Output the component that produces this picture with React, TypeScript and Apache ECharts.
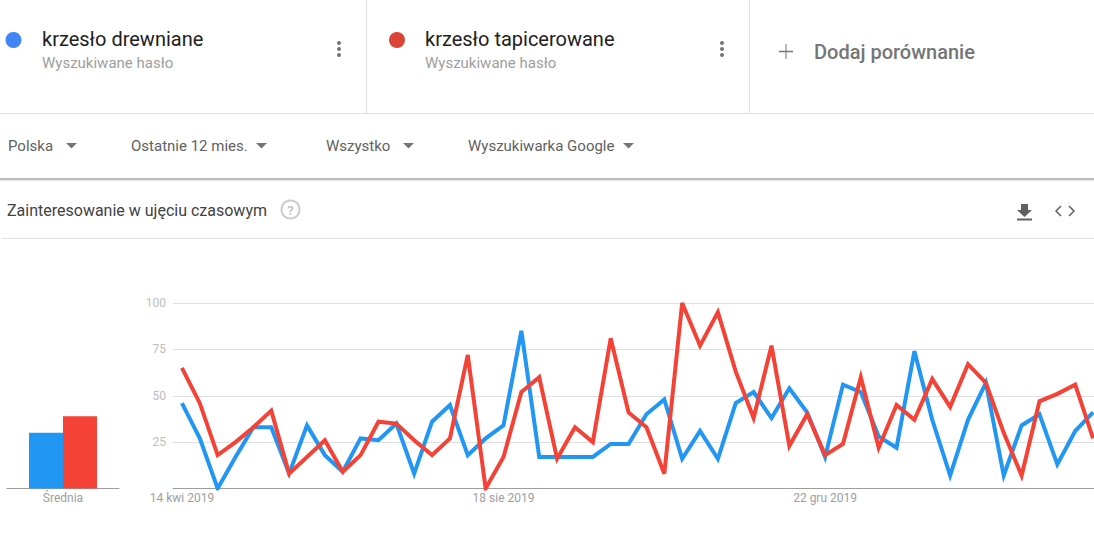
import React, { useEffect, useRef } from 'react';
import * as echarts from 'echarts';

const weeks = [
    '14 kwi 2019', '21 kwi 2019', '28 kwi 2019', '5 maj 2019', '12 maj 2019', '19 maj 2019', '26 maj 2019',
    '2 cze 2019', '9 cze 2019', '16 cze 2019', '23 cze 2019', '30 cze 2019', '7 lip 2019', '14 lip 2019',
    '21 lip 2019', '28 lip 2019', '4 sie 2019', '11 sie 2019', '18 sie 2019', '25 sie 2019', '1 wrz 2019',
    '8 wrz 2019', '15 wrz 2019', '22 wrz 2019', '29 wrz 2019', '6 paź 2019', '13 paź 2019', '20 paź 2019',
    '27 paź 2019', '3 lis 2019', '10 lis 2019', '17 lis 2019', '24 lis 2019', '1 gru 2019', '8 gru 2019',
    '15 gru 2019', '22 gru 2019', '29 gru 2019', '5 sty 2020', '12 sty 2020', '19 sty 2020', '26 sty 2020',
    '2 lut 2020', '9 lut 2020', '16 lut 2020', '23 lut 2020', '1 mar 2020', '8 mar 2020', '15 mar 2020',
    '22 mar 2020', '29 mar 2020', '5 kwi 2020',
];

const drewniane = [
    46, 27, 0, 17, 33, 33, 8, 34, 18, 9, 27, 26, 35, 8, 36, 45, 18, 27, 34, 85, 17, 17, 17, 17, 24, 24,
    40, 48, 16, 31, 16, 46, 52, 38, 54, 41, 17, 56, 52, 28, 22, 74, 37, 7, 37, 57, 7, 34, 40, 13, 31, 41,
];

const tapicerowane = [
    65, 46, 18, 25, 33, 42, 8, 17, 26, 9, 18, 36, 35, 26, 18, 27, 72, 0, 17, 52, 60, 16, 33, 25, 81, 41,
    33, 8, 100, 77, 95, 63, 38, 77, 23, 40, 18, 24, 60, 22, 45, 37, 59, 44, 67, 57, 30, 7, 47, 51, 56, 27,
];

const averageLabel = ['Średnia'];
const averageDrewniane = [30];
const averageTapicerowane = [39];

const labelledWeeks = [0, 18, 36];

const BLUE = '#2196F3';
const RED = '#F44336';
const FONT = 'Roboto';

const label = (x: number, y: number, text: string, fontSize: number, fill: string, fontWeight = 400) => ({
    type: 'text',
    x,
    y,
    style: { text, fontSize, fill, fontWeight, fontFamily: FONT, textVerticalAlign: 'middle' },
});

const hLine = (x1: number, x2: number, y: number, stroke: string, lineWidth = 1) => ({
    type: 'line',
    shape: { x1, y1: y, x2, y2: y },
    style: { stroke, lineWidth },
});

const vLine = (x: number, y1: number, y2: number, stroke: string) => ({
    type: 'line',
    shape: { x1: x, y1, x2: x, y2 },
    style: { stroke, lineWidth: 1 },
});

const caret = (x: number, y: number) => ({
    type: 'polygon',
    shape: { points: [[x, y], [x + 11, y], [x + 5.5, y + 5.5]] },
    style: { fill: '#757575' },
});

const dots = (x: number) =>
    [43, 49, 55].map((y) => ({
        type: 'circle',
        shape: { cx: x, cy: y, r: 2 },
        style: { fill: '#757575' },
    }));

const headerGraphics = [
    { type: 'circle', shape: { cx: 13.5, cy: 40, r: 8 }, style: { fill: '#4285F4' } },
    label(42, 39, 'krzesło drewniane', 20, '#212121'),
    label(42, 63, 'Wyszukiwane hasło', 15, '#9E9E9E'),
    ...dots(339),
    vLine(366.5, 0, 113, '#E0E0E0'),
    { type: 'circle', shape: { cx: 397, cy: 40, r: 8 }, style: { fill: '#DB4437' } },
    label(425, 39, 'krzesło tapicerowane', 20, '#212121'),
    label(425, 63, 'Wyszukiwane hasło', 15, '#9E9E9E'),
    ...dots(722),
    vLine(749.5, 0, 113, '#E0E0E0'),
    hLine(779, 793, 51.5, '#757575', 1.5),
    vLine(786, 44, 59, '#757575'),
    label(814, 52, 'Dodaj porównanie', 20, '#757575', 500),
    hLine(0, 1094, 113.5, '#E0E0E0'),

    label(8, 146, 'Polska', 15, '#616161'),
    caret(66, 143),
    label(131, 146, 'Ostatnie 12 mies.', 15, '#616161'),
    caret(256, 143),
    label(326, 146, 'Wszystko', 15, '#616161'),
    caret(403, 143),
    label(468, 146, 'Wyszukiwarka Google', 15, '#616161'),
    caret(623, 143),
    hLine(0, 1094, 179, '#BDBDBD', 2),
    hLine(0, 1094, 180.5, '#E8E8E8', 1),

    label(7, 210, 'Zainteresowanie w ujęciu czasowym', 16, '#424242'),
    { type: 'circle', shape: { cx: 290.5, cy: 209.5, r: 9 }, style: { fill: 'none', stroke: '#CCCCCC', lineWidth: 2 } },
    {
        type: 'text',
        x: 290.5,
        y: 210,
        style: { text: '?', fontSize: 13, fill: '#BDBDBD', fontWeight: 500, fontFamily: FONT, textAlign: 'center', textVerticalAlign: 'middle' },
    },
    {
        type: 'polygon',
        shape: { points: [[1021, 204], [1028, 204], [1028, 210], [1032, 210], [1024.5, 217], [1017, 210], [1021, 210]] },
        style: { fill: '#616161' },
    },
    hLine(1017, 1032, 219.5, '#616161', 2),
    {
        type: 'polyline',
        shape: { points: [[1061, 206], [1056, 211], [1061, 216]] },
        style: { stroke: '#616161', lineWidth: 1.5, fill: 'none' },
    },
    {
        type: 'polyline',
        shape: { points: [[1069, 206], [1074, 211], [1069, 216]] },
        style: { stroke: '#616161', lineWidth: 1.5, fill: 'none' },
    },
    hLine(2, 1094, 238.5, '#E0E0E0'),
];

const trendLine = (name: string, data: number[], color: string) => ({
    name,
    type: 'line',
    xAxisIndex: 1,
    yAxisIndex: 1,
    data,
    symbol: 'none',
    lineStyle: { color, width: 4, join: 'miter', miterLimit: 10 },
});

const App: React.FC = () => {
    const chartRef = useRef<HTMLDivElement | null>(null);

    useEffect(() => {
        document.body.style.margin = '0';
        if (chartRef.current) {
            const chartInstance = echarts.init(chartRef.current, undefined, { renderer: 'svg' });

            const option = {
                animation: false,
                backgroundColor: '#ffffff',
                textStyle: { fontFamily: FONT },
                graphic: headerGraphics,
                grid: [
                    { left: 7, top: 303, width: 112, height: 185.5, outerBoundsMode: 'none' },
                    { left: 173, top: 303, width: 929, height: 185.5, outerBoundsMode: 'none' },
                ],
                xAxis: [
                    {
                        type: 'category',
                        gridIndex: 0,
                        data: averageLabel,
                        axisTick: { show: false },
                        axisLine: { lineStyle: { color: '#9E9E9E' } },
                        axisLabel: { color: '#9E9E9E', fontSize: 12, margin: 3, fontFamily: FONT },
                    },
                    {
                        type: 'category',
                        gridIndex: 1,
                        data: weeks,
                        axisTick: { show: false },
                        axisLine: { lineStyle: { color: '#9E9E9E' } },
                        axisLabel: {
                            color: '#9E9E9E',
                            fontSize: 12,
                            margin: 3,
                            fontFamily: FONT,
                            interval: (index: number) => labelledWeeks.includes(index),
                        },
                    },
                ],
                yAxis: [
                    { type: 'value', gridIndex: 0, min: 0, max: 100, show: false },
                    {
                        type: 'value',
                        gridIndex: 1,
                        min: 0,
                        max: 100,
                        interval: 25,
                        axisLine: { show: false },
                        axisTick: { show: false },
                        axisLabel: {
                            color: '#BDBDBD',
                            fontSize: 12,
                            margin: 7,
                            fontFamily: FONT,
                            formatter: (value: number) => (value === 0 ? '' : String(value)),
                        },
                        splitLine: { lineStyle: { color: '#E0E0E0' } },
                    },
                ],
                series: [
                    {
                        name: 'krzesło drewniane',
                        type: 'bar',
                        data: averageDrewniane,
                        barWidth: 34,
                        barGap: 0,
                        itemStyle: { color: BLUE },
                    },
                    {
                        name: 'krzesło tapicerowane',
                        type: 'bar',
                        data: averageTapicerowane,
                        barWidth: 34,
                        barGap: 0,
                        itemStyle: { color: RED },
                    },
                    trendLine('krzesło drewniane', drewniane, BLUE),
                    trendLine('krzesło tapicerowane', tapicerowane, RED),
                ],
            };

            chartInstance.setOption(option);

            return () => {
                chartInstance.dispose();
            };
        }
    }, []);

    return <div ref={chartRef} style={{ width: '1094px', height: '534px' }} />;
};

export default App;
